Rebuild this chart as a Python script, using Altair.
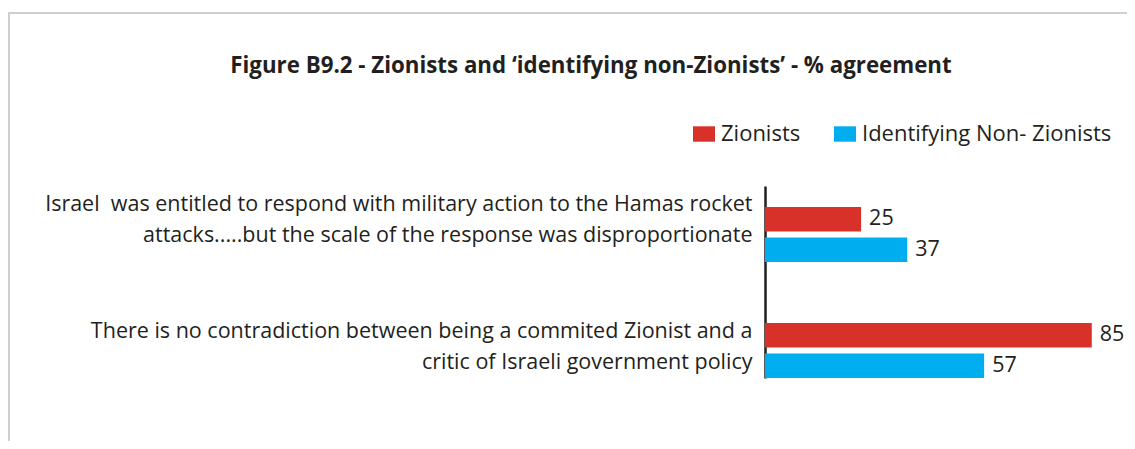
import altair as alt
import pandas as pd

# ---- data ----
categories = [
    "Israel\u00a0 was entitled to respond with military action to the Hamas rocket|attacks.....but the scale of the response was disproportionate",
    "There is no contradiction between being a commited Zionist and a|critic of Israeli government policy",
]
series = ["Zionists", "Identifying Non- Zionists"]
zionists = [25, 85]
non_zionists = [37, 57]
colors = ["#d7312a", "#00aeef"]
title_text = "Figure B9.2 - Zionists and \u2018identifying non-Zionists\u2019 - % agreement"

rows = []
for i, c in enumerate(categories):
    rows.append({"statement": c, "group": series[0], "value": zionists[i]})
    rows.append({"statement": c, "group": series[1], "value": non_zionists[i]})
df = pd.DataFrame(rows)

TXT = "#231f20"
FONT = "Open Sans"
FS = 21.5

y = alt.Y(
    "statement:N",
    sort=categories,
    scale=alt.Scale(paddingInner=0.526, paddingOuter=0.0905, align=1),
    axis=alt.Axis(
        title=None,
        labelExpr="split(datum.label, '|')",
        labelFontSize=FS,
        labelLineHeight=31,
        labelLimit=900,
        labelPadding=13,
        labelColor=TXT,
        labelFont=FONT,
        labelBaseline={"condition": {"test": "indexof(datum.value, 'Israel') == 0", "value": "bottom"}, "value": "middle"},
        labelOffset=-18.5,
        ticks=False,
        grid=False,
        domainColor=TXT,
        domainWidth=2.5,
    ),
)
x = alt.X("value:Q", scale=alt.Scale(domain=[0, 90], nice=False), axis=None)
yoff = alt.YOffset("group:N", sort=series, scale=alt.Scale(paddingInner=0.2, paddingOuter=0))
color = alt.Color(
    "group:N",
    sort=series,
    scale=alt.Scale(domain=series, range=colors),
    legend=alt.Legend(
        title=None,
        orient="none",
        legendX=-72,
        legendY=-63,
        direction="horizontal",
        symbolType="M-1,-0.7H1V0.7H-1Z",
        symbolSize=484,
        symbolStrokeWidth=0,
        labelFontSize=22,
        labelFont=FONT,
        labelColor=TXT,
        labelOffset=6,
        labelLimit=400,
        columnPadding=33,
        padding=0,
    ),
)

base = alt.Chart(df)
bars = base.mark_bar().encode(x=x, y=y, yOffset=yoff, color=color)
labels = base.mark_text(align="left", baseline="middle", dx=8, fontSize=FS, font=FONT, color=TXT).encode(
    x=x, y=y, yOffset=yoff, text="value:Q"
)

frame_data = alt.Data(values=[{"k": 1}])
left_frame = alt.Chart(frame_data).mark_rule(color="#cfcfcf", strokeWidth=2).encode(
    x=alt.value(-756), y=alt.value(-173), y2=alt.value(300)
)
top_frame = alt.Chart(frame_data).mark_rule(color="#cfcfcf", strokeWidth=2).encode(
    x=alt.value(-757), x2=alt.value(400), y=alt.value(-173)
)

chart = (
    alt.layer(left_frame, top_frame, bars, labels)
    .properties(
        width=346,
        height=192,
        background="white",
        title=alt.TitleParams(
            text=title_text,
            font=FONT,
            fontSize=22.3,
            fontWeight="bold",
            color=TXT,
            anchor="middle",
            frame="group",
            dx=-347,
            dy=69,
        ),
        autosize=alt.AutoSizeParams(type="none"),
        padding={"left": 757, "top": 178, "right": 16, "bottom": 63},
    )
    .configure_view(strokeWidth=0, stroke="transparent")
)

chart.save("out.html", embed_options={"renderer": "svg", "actions": False})
